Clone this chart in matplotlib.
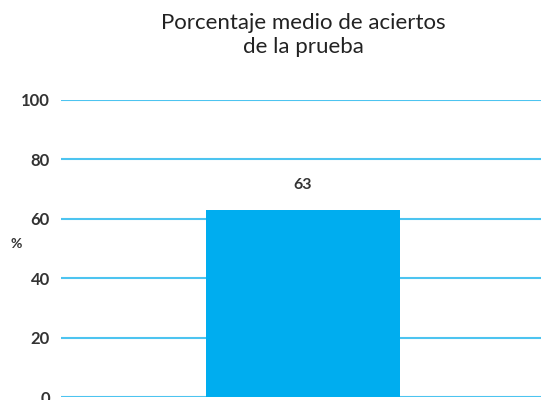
import matplotlib
matplotlib.use("Agg")
import matplotlib.pyplot as plt

categories = [""]
values = [63]
yticks = [0, 20, 40, 60, 80, 100]

plt.rcParams['font.family'] = ['Lato', 'DejaVu Sans']

fig = plt.figure(figsize=(5.41, 4.0), dpi=100)
ax = fig.add_axes([61/541, 3/400, 480/541, 297/400])

bar_color = '#00adef'
grid_color = '#4dc4f0'
text_color = '#333333'

ax.bar([0], values, width=0.404, color=bar_color, zorder=3)
ax.set_xlim(-0.504, 0.496)
ax.set_ylim(0, 100)
ax.set_yticks(yticks)
ax.set_yticklabels([str(t) for t in yticks], fontsize=12, color=text_color, fontweight='bold')
ax.set_xticks([])
ax.yaxis.grid(True, color=grid_color, linewidth=1.5, zorder=0)
ax.tick_params(axis='y', length=0, pad=8)
for s in ax.spines.values():
    s.set_visible(False)

for i, v in enumerate(values):
    ax.text(i, v + 6, str(v), ha='center', va='bottom', fontsize=11.5,
            color=text_color, fontweight='bold')

fig.text(16/541, 1 - 244/400, '%', ha='center', va='center', fontsize=10,
         color=text_color, fontweight='bold')
fig.text(303/541, 1 - 35/400, 'Porcentaje medio de aciertos\nde la prueba',
         ha='center', va='center', fontsize=16, color='#222222', linespacing=1.25)

fig.savefig('out.png', dpi=100)
